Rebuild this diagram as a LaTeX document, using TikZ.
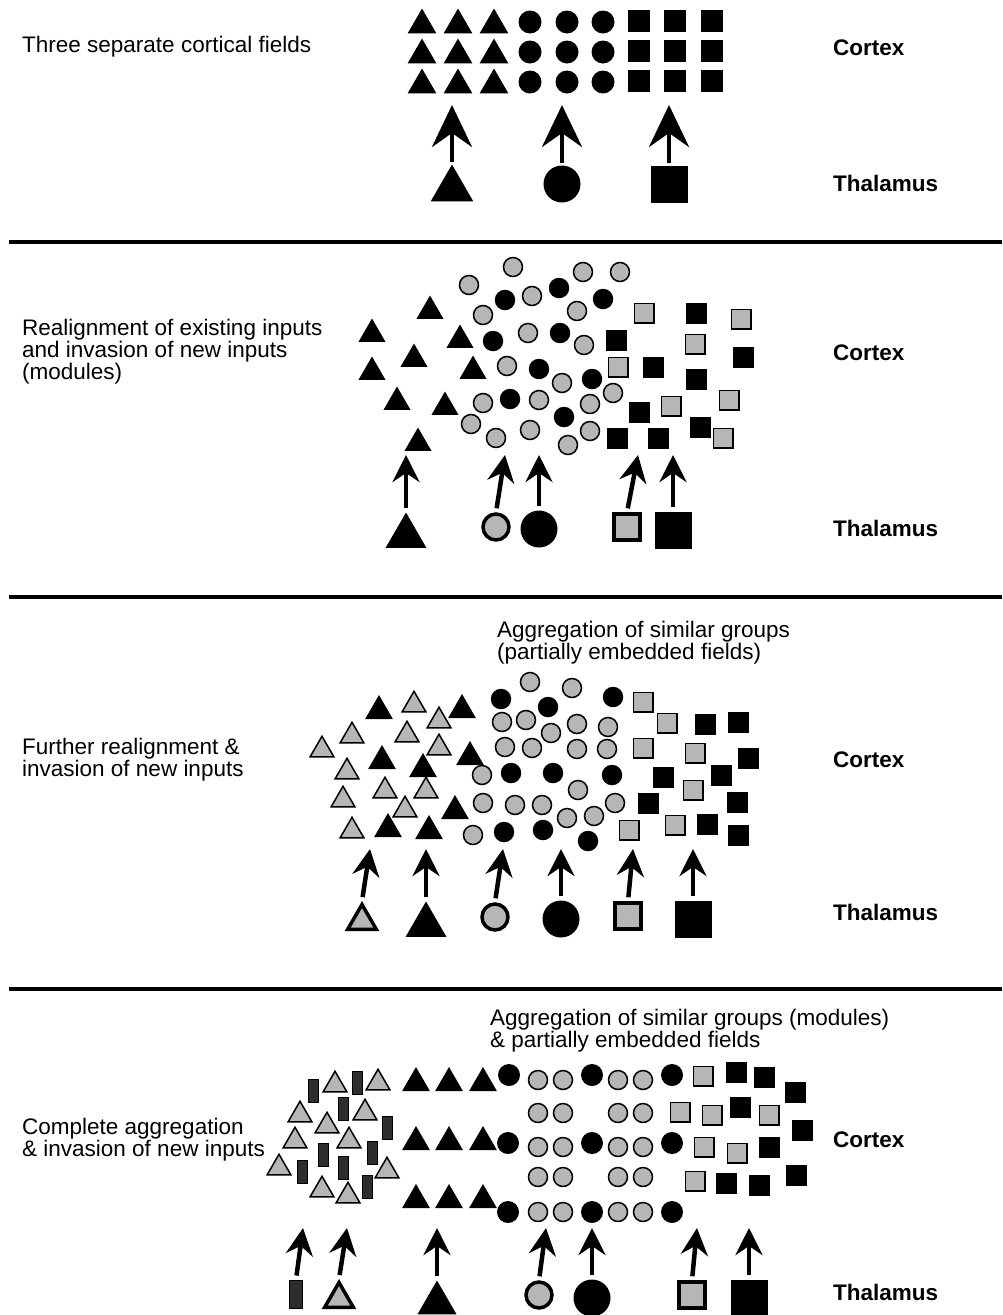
\documentclass[tikz,border=0pt]{standalone}
\usepackage{fontspec}
\setmainfont{Liberation Sans}
\usepackage{xcolor}
\usepackage{tikz}
\usetikzlibrary{positioning, arrows.meta, shapes.geometric}
\definecolor{fieldgray}{RGB}{182,182,182}
\definecolor{slabdark}{RGB}{45,45,45}

\begin{document}
\begin{tikzpicture}[
    x=1pt, y=-1pt,
    btri/.style={regular polygon, regular polygon sides=3, fill=black, inner sep=0pt, minimum size=#1},
    btri/.default=32,
    gtri/.style={regular polygon, regular polygon sides=3, draw, line width=1.5pt, fill=fieldgray, inner sep=0pt, minimum size=#1},
    gtri/.default=27.5,
    bdot/.style={circle, fill=black, inner sep=0pt, minimum size=#1},
    bdot/.default=20.5,
    gdot/.style={circle, draw, line width=1.5pt, fill=fieldgray, inner sep=0pt, minimum size=#1},
    gdot/.default=19,
    bsq/.style={rectangle, fill=black, inner sep=0pt, minimum size=#1},
    bsq/.default=21,
    gsq/.style={rectangle, draw, line width=1.5pt, fill=fieldgray, inner sep=0pt, minimum size=#1},
    gsq/.default=19.5,
    slab/.style={rectangle, draw, line width=1pt, fill=slabdark, inner sep=0pt, minimum width=10, minimum height=23},
    proj/.style={line width=4.5pt, shorten <=4pt, -{Stealth[length=27pt, width=27pt, inset=9pt]}},
    bigproj/.style={line width=4.5pt, shorten <=2pt, -{Stealth[length=42pt, width=40pt, inset=14pt]}},
    lbl/.style={anchor=west, inner sep=0pt, font=\fontsize{22.5}{24}\selectfont\bfseries},
    note/.style={anchor=west, inner sep=0pt, align=left, font=\fontsize{22.5}{22}\selectfont},
    divider/.style={line width=4pt},
]
\useasboundingbox (0,0) rectangle (1002,1315);

\draw[divider] (9,242) -- (1002,242);
\draw[divider] (9,597) -- (1002,597);
\draw[divider] (9,989) -- (1002,989);

\node[note] (fieldsA) at (22,47) {Three separate cortical fields};
\node[lbl] (ctxA) at (833,48) {Cortex};
\node[lbl] (thlA) at (833,183) {Thalamus};

\node[btri=33] (tA1) at (422,25) {};
\node[btri=33] (tA2) at (458,25) {};
\node[btri=33] (tA3) at (494,25) {};
\node[btri=33] (tA4) at (422,55) {};
\node[btri=33] (tA5) at (458,55) {};
\node[btri=33] (tA6) at (494,55) {};
\node[btri=33] (tA7) at (422,85) {};
\node[btri=33] (tA8) at (458,85) {};
\node[btri=33] (tA9) at (494,85) {};
\node[bdot=23] (cA1) at (530,22) {};
\node[bdot=23] (cA2) at (567,22) {};
\node[bdot=23] (cA3) at (603,22) {};
\node[bdot=23] (cA4) at (530,52) {};
\node[bdot=23] (cA5) at (567,52) {};
\node[bdot=23] (cA6) at (603,52) {};
\node[bdot=23] (cA7) at (530,82) {};
\node[bdot=23] (cA8) at (567,82) {};
\node[bdot=23] (cA9) at (603,82) {};
\node[bsq=22] (sA1) at (639,21) {};
\node[bsq=22] (sA2) at (675,21) {};
\node[bsq=22] (sA3) at (712,21) {};
\node[bsq=22] (sA4) at (639,51) {};
\node[bsq=22] (sA5) at (675,51) {};
\node[bsq=22] (sA6) at (712,51) {};
\node[bsq=22] (sA7) at (639,81) {};
\node[bsq=22] (sA8) at (675,81) {};
\node[bsq=22] (sA9) at (712,81) {};

\node[btri=49] (thA1) at (452,189) {};
\node[bdot=37] (thA2) at (562,184) {};
\node[bsq=37] (thA3) at (669,184) {};
\coordinate (hA1) at (452,105);
\coordinate (hA2) at (562,105);
\coordinate (hA3) at (669,105);
\draw[bigproj] (thA1.north) -- (hA1);
\draw[bigproj] (thA2.north) -- (hA2);
\draw[bigproj] (thA3.north) -- (hA3);

\node[note] (fieldsB) at (22,352) {Realignment of existing inputs\\and invasion of new inputs\\(modules)};
\node[lbl] (ctxB) at (833,353) {Cortex};
\node[lbl] (thlB) at (833,528) {Thalamus};

\node[btri=31] (tB1) at (430,311) {};
\node[btri=31] (tB2) at (372,334) {};
\node[btri=31] (tB3) at (460,340) {};
\node[btri=31] (tB4) at (414,359) {};
\node[btri=31] (tB5) at (372,372) {};
\node[btri=31] (tB6) at (473,371) {};
\node[btri=31] (tB7) at (397,402) {};
\node[btri=31] (tB8) at (445,407) {};
\node[btri=31] (tB9) at (418,443) {};
\node[gdot] (gB1) at (513,267) {};
\node[gdot] (gB2) at (469,285) {};
\node[gdot] (gB3) at (532,296) {};
\node[gdot] (gB4) at (583,272) {};
\node[gdot] (gB5) at (620,272) {};
\node[gdot] (gB6) at (483,315) {};
\node[gdot] (gB7) at (577,311) {};
\node[gdot] (gB8) at (528,333) {};
\node[gdot] (gB9) at (584,345) {};
\node[gdot] (gB10) at (507,366) {};
\node[gdot] (gB11) at (562,383) {};
\node[gdot] (gB12) at (613,393) {};
\node[gdot] (gB13) at (483,403) {};
\node[gdot] (gB14) at (539,400) {};
\node[gdot] (gB15) at (590,404) {};
\node[gdot] (gB16) at (471,424) {};
\node[gdot] (gB17) at (496,438) {};
\node[gdot] (gB18) at (530,430) {};
\node[gdot] (gB19) at (590,431) {};
\node[gdot] (gB20) at (568,445) {};
\node[bdot] (cB1) at (505,300) {};
\node[bdot] (cB2) at (559,288) {};
\node[bdot] (cB3) at (603,299) {};
\node[bdot] (cB4) at (493,341) {};
\node[bdot] (cB5) at (560,333) {};
\node[bdot] (cB6) at (539,369) {};
\node[bdot] (cB7) at (592,379) {};
\node[bdot] (cB8) at (510,399) {};
\node[bdot] (cB9) at (564,417) {};
\node[gsq] (qB1) at (644,313) {};
\node[gsq] (qB2) at (741,319) {};
\node[gsq] (qB3) at (695,344) {};
\node[gsq] (qB4) at (618,367) {};
\node[gsq] (qB5) at (729,400) {};
\node[gsq] (qB6) at (671,406) {};
\node[gsq] (qB7) at (723,438) {};
\node[bsq] (sB1) at (696,313) {};
\node[bsq] (sB2) at (616,340) {};
\node[bsq] (sB3) at (743,357) {};
\node[bsq] (sB4) at (653,367) {};
\node[bsq] (sB5) at (696,379) {};
\node[bsq] (sB6) at (639,412) {};
\node[bsq] (sB7) at (700,427) {};
\node[bsq] (sB8) at (617,438) {};
\node[bsq] (sB9) at (658,438) {};

\node[btri=47] (thB1) at (406,536) {};
\node[gdot=26, line width=3.5pt] (thB2) at (496,527) {};
\node[bdot=37] (thB3) at (539,529) {};
\node[gsq=26, line width=3.5pt] (thB4) at (627,527) {};
\node[bsq=37] (thB5) at (673,530) {};
\coordinate (hB1) at (406,455);
\coordinate (hB2) at (505,455);
\coordinate (hB3) at (539,455);
\coordinate (hB4) at (638,455);
\coordinate (hB5) at (673,455);
\draw[proj] (thB1.north) -- (hB1);
\draw[proj] (thB2.north) -- (hB2);
\draw[proj] (thB3.north) -- (hB3);
\draw[proj] (thB4.north) -- (hB4);
\draw[proj] (thB5.north) -- (hB5);

\node[note] (fieldsC) at (22,760) {Further realignment \&\\invasion of new inputs};
\node[note] (groupsC) at (497,643) {Aggregation of similar groups\\(partially embedded fields)};
\node[lbl] (ctxC) at (833,760) {Cortex};
\node[lbl] (thlC) at (833,912) {Thalamus};

\node[btri] (tC1) at (379,711) {};
\node[btri] (tC2) at (462,710) {};
\node[btri] (tC3) at (382,761) {};
\node[btri] (tC4) at (470,757) {};
\node[btri] (tC5) at (423,769) {};
\node[btri] (tC6) at (455,811) {};
\node[btri] (tC7) at (388,829) {};
\node[btri] (tC8) at (429,831) {};
\node[gtri] (uC1) at (414,705) {};
\node[gtri] (uC2) at (439,721) {};
\node[gtri] (uC3) at (352,736) {};
\node[gtri] (uC4) at (407,735) {};
\node[gtri] (uC5) at (322,750) {};
\node[gtri] (uC6) at (439,748) {};
\node[gtri] (uC7) at (347,772) {};
\node[gtri] (uC8) at (385,791) {};
\node[gtri] (uC9) at (426,791) {};
\node[gtri] (uC10) at (343,800) {};
\node[gtri] (uC11) at (405,810) {};
\node[gtri] (uC12) at (352,831) {};
\node[gdot] (gC1) at (530,682) {};
\node[gdot] (gC2) at (572,688) {};
\node[gdot] (gC3) at (502,722) {};
\node[gdot] (gC4) at (526,720) {};
\node[gdot] (gC5) at (551,733) {};
\node[gdot] (gC6) at (577,724) {};
\node[gdot] (gC7) at (608,727) {};
\node[gdot] (gC8) at (505,747) {};
\node[gdot] (gC9) at (532,748) {};
\node[gdot] (gC10) at (577,749) {};
\node[gdot] (gC11) at (607,749) {};
\node[gdot] (gC12) at (482,775) {};
\node[gdot] (gC13) at (578,790) {};
\node[gdot] (gC14) at (483,803) {};
\node[gdot] (gC15) at (515,805) {};
\node[gdot] (gC16) at (542,805) {};
\node[gdot] (gC17) at (615,803) {};
\node[gdot] (gC18) at (567,818) {};
\node[gdot] (gC19) at (594,816) {};
\node[gdot] (gC20) at (473,835) {};
\node[bdot] (cC1) at (501,699) {};
\node[bdot] (cC2) at (548,707) {};
\node[bdot] (cC3) at (613,697) {};
\node[bdot] (cC4) at (511,773) {};
\node[bdot] (cC5) at (553,773) {};
\node[bdot] (cC6) at (612,775) {};
\node[bdot] (cC7) at (504,832) {};
\node[bdot] (cC8) at (543,830) {};
\node[bdot] (cC9) at (588,841) {};
\node[gsq] (qC1) at (643,702) {};
\node[gsq] (qC2) at (667,723) {};
\node[gsq] (qC3) at (643,748) {};
\node[gsq] (qC4) at (695,753) {};
\node[gsq] (qC5) at (693,790) {};
\node[gsq] (qC6) at (629,830) {};
\node[gsq] (qC7) at (675,825) {};
\node[bsq] (sC1) at (705,724) {};
\node[bsq] (sC2) at (738,722) {};
\node[bsq] (sC3) at (748,758) {};
\node[bsq] (sC4) at (663,777) {};
\node[bsq] (sC5) at (721,775) {};
\node[bsq] (sC6) at (648,803) {};
\node[bsq] (sC7) at (737,802) {};
\node[bsq] (sC8) at (707,824) {};
\node[bsq] (sC9) at (738,835) {};

\node[gtri=33, line width=3.5pt] (thC1) at (362,921) {};
\node[btri=47] (thC2) at (426,925) {};
\node[gdot=26, line width=3.5pt] (thC3) at (495,917) {};
\node[bdot=37] (thC4) at (561,919) {};
\node[gsq=26, line width=3.5pt] (thC5) at (628,916) {};
\node[bsq=37] (thC6) at (693,919) {};
\coordinate (hC1) at (370,849);
\coordinate (hC2) at (426,849);
\coordinate (hC3) at (503,849);
\coordinate (hC4) at (561,849);
\coordinate (hC5) at (633,849);
\coordinate (hC6) at (693,849);
\draw[proj] (thC1.north) -- (hC1);
\draw[proj] (thC2.north) -- (hC2);
\draw[proj] (thC3.north) -- (hC3);
\draw[proj] (thC4.north) -- (hC4);
\draw[proj] (thC5.north) -- (hC5);
\draw[proj] (thC6.north) -- (hC6);

\node[note] (fieldsD) at (22,1140) {Complete aggregation\\\& invasion of new inputs};
\node[note] (groupsD) at (490,1031) {Aggregation of similar groups (modules)\\\& partially embedded fields};
\node[lbl] (ctxD) at (833,1140) {Cortex};
\node[lbl] (thlD) at (833,1292) {Thalamus};

\node[slab] (rD1) at (313,1091) {};
\node[slab] (rD2) at (357,1083) {};
\node[slab] (rD3) at (343,1109) {};
\node[slab] (rD4) at (387,1128) {};
\node[slab] (rD5) at (323,1155) {};
\node[slab] (rD6) at (372,1153) {};
\node[slab] (rD7) at (302,1172) {};
\node[slab] (rD8) at (343,1168) {};
\node[slab] (rD9) at (367,1187) {};
\node[gtri] (uD1) at (335,1085) {};
\node[gtri] (uD2) at (378,1083) {};
\node[gtri] (uD3) at (300,1115) {};
\node[gtri] (uD4) at (365,1113) {};
\node[gtri] (uD5) at (327,1126) {};
\node[gtri] (uD6) at (295,1141) {};
\node[gtri] (uD7) at (349,1141) {};
\node[gtri] (uD8) at (279,1168) {};
\node[gtri] (uD9) at (387,1171) {};
\node[gtri] (uD10) at (322,1190) {};
\node[gtri] (uD11) at (348,1196) {};
\node[btri] (tD1) at (416,1083) {};
\node[btri] (tD2) at (449,1083) {};
\node[btri] (tD3) at (483,1083) {};
\node[btri] (tD4) at (416,1142) {};
\node[btri] (tD5) at (449,1142) {};
\node[btri] (tD6) at (483,1142) {};
\node[btri] (tD7) at (416,1200) {};
\node[btri] (tD8) at (449,1200) {};
\node[btri] (tD9) at (483,1200) {};
\node[bdot=22] (cD1) at (509,1075) {};
\node[bdot=22] (cD2) at (592,1075) {};
\node[bdot=22] (cD3) at (672,1075) {};
\node[bdot=22] (cD4) at (508,1143) {};
\node[bdot=22] (cD5) at (592,1143) {};
\node[bdot=22] (cD6) at (672,1143) {};
\node[bdot=22] (cD7) at (508,1212) {};
\node[bdot=22] (cD8) at (592,1212) {};
\node[bdot=22] (cD9) at (672,1212) {};
\node[gdot] (gD1) at (538,1080) {};
\node[gdot] (gD2) at (563,1080) {};
\node[gdot] (gD3) at (618,1080) {};
\node[gdot] (gD4) at (643,1080) {};
\node[gdot] (gD5) at (538,1113) {};
\node[gdot] (gD6) at (563,1113) {};
\node[gdot] (gD7) at (618,1113) {};
\node[gdot] (gD8) at (643,1113) {};
\node[gdot] (gD9) at (538,1147) {};
\node[gdot] (gD10) at (563,1147) {};
\node[gdot] (gD11) at (618,1147) {};
\node[gdot] (gD12) at (643,1147) {};
\node[gdot] (gD13) at (538,1177) {};
\node[gdot] (gD14) at (563,1177) {};
\node[gdot] (gD15) at (618,1177) {};
\node[gdot] (gD16) at (643,1177) {};
\node[gdot] (gD17) at (538,1212) {};
\node[gdot] (gD18) at (563,1212) {};
\node[gdot] (gD19) at (618,1212) {};
\node[gdot] (gD20) at (643,1212) {};
\node[gsq] (qD1) at (703,1076) {};
\node[gsq] (qD2) at (680,1112) {};
\node[gsq] (qD3) at (712,1115) {};
\node[gsq] (qD4) at (769,1115) {};
\node[gsq] (qD5) at (704,1147) {};
\node[gsq] (qD6) at (737,1153) {};
\node[gsq] (qD7) at (695,1181) {};
\node[bsq] (sD1) at (736,1072) {};
\node[bsq] (sD2) at (764,1077) {};
\node[bsq] (sD3) at (795,1092) {};
\node[bsq] (sD4) at (740,1107) {};
\node[bsq] (sD5) at (802,1130) {};
\node[bsq] (sD6) at (769,1147) {};
\node[bsq] (sD7) at (726,1183) {};
\node[bsq] (sD8) at (759,1185) {};
\node[bsq] (sD9) at (796,1175) {};

\node[slab, minimum width=13, minimum height=28] (thD1) at (296,1294) {};
\node[gtri=33, line width=3.5pt] (thD2) at (339,1299) {};
\node[btri=45] (thD3) at (437,1303) {};
\node[gdot=26, line width=3.5pt] (thD4) at (539,1295) {};
\node[bdot=37] (thD5) at (592,1298) {};
\node[gsq=26, line width=3.5pt] (thD6) at (692,1295) {};
\node[bsq=37] (thD7) at (749,1298) {};
\coordinate (hD1) at (303,1228);
\coordinate (hD2) at (347,1228);
\coordinate (hD3) at (437,1228);
\coordinate (hD4) at (546,1228);
\coordinate (hD5) at (592,1228);
\coordinate (hD6) at (697,1228);
\coordinate (hD7) at (749,1228);
\draw[proj] (thD1.north) -- (hD1);
\draw[proj] (thD2.north) -- (hD2);
\draw[proj] (thD3.north) -- (hD3);
\draw[proj] (thD4.north) -- (hD4);
\draw[proj] (thD5.north) -- (hD5);
\draw[proj] (thD6.north) -- (hD6);
\draw[proj] (thD7.north) -- (hD7);
\end{tikzpicture}
\end{document}
